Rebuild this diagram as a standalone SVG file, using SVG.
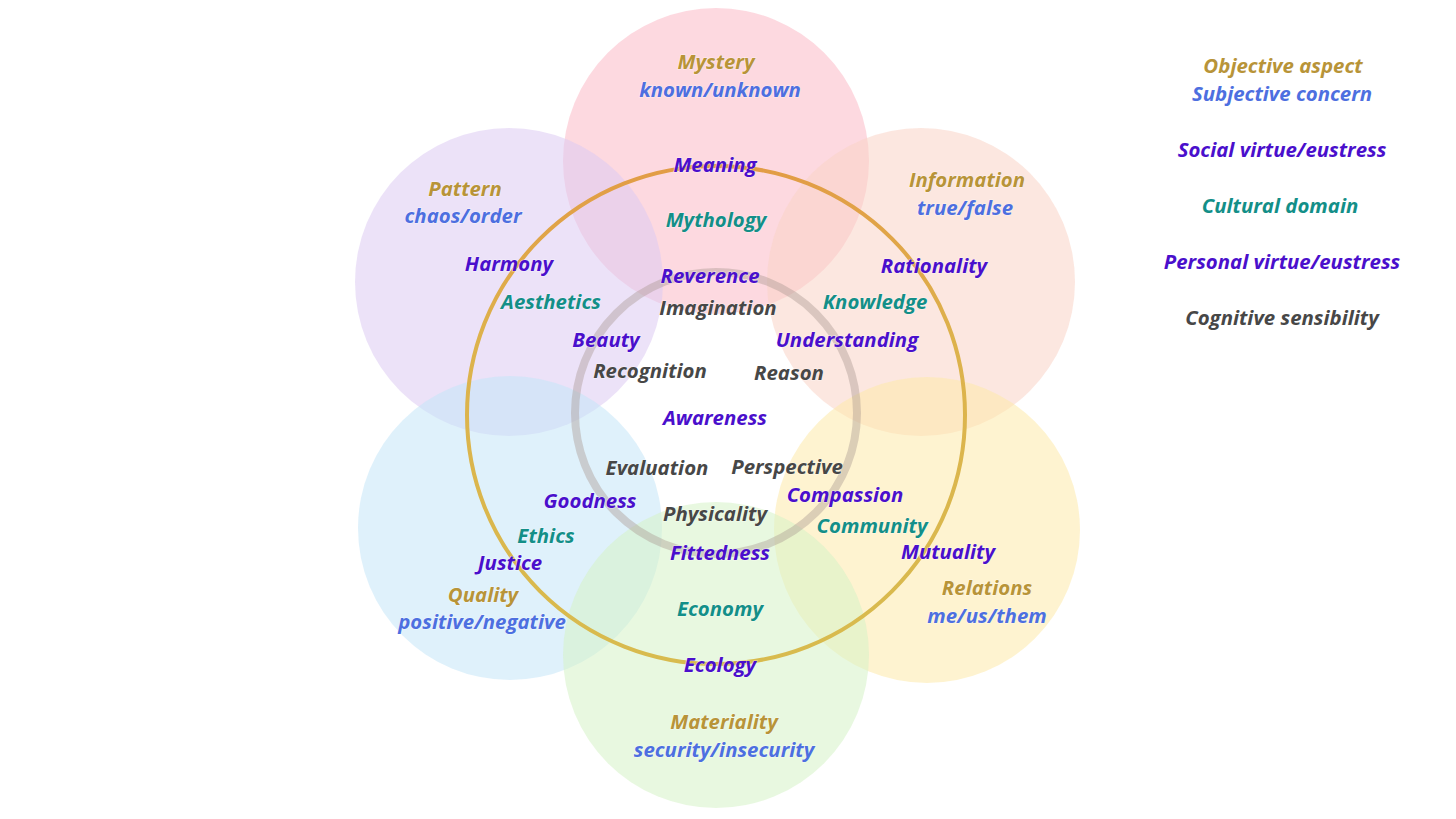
<svg xmlns="http://www.w3.org/2000/svg" width="1456" height="819" viewBox="0 0 1456 819">
<defs>
<linearGradient id="ringGrad" x1="0" y1="0" x2="0" y2="1">
<stop offset="0" stop-color="#e29c45"/>
<stop offset="0.35" stop-color="#ddb24c"/>
<stop offset="1" stop-color="#d8bb4e"/>
</linearGradient>
</defs>
<style>
text{font-family:"Open Sans","Noto Sans","Liberation Sans",sans-serif;font-style:italic;font-weight:700;font-size:20.4px;text-anchor:middle;stroke:#ffffff;stroke-width:1.2;stroke-opacity:0.5;paint-order:stroke}
.obj{fill:#b89438}
.subj{fill:#4d6fe0}
.soc{fill:#4a0fcc}
.cul{fill:#138f88}
.per{fill:#4a0fcc}
.cog{fill:#474747}
.petal{fill-opacity:0.55}
</style>
<rect width="1456" height="819" fill="#ffffff"/>
<g id="petals">
<g id="mystery-circle"><circle class="petal" cx="716" cy="161" r="153" fill="#fcb9c6"/></g>
<g id="pattern-circle"><circle class="petal" cx="509" cy="282" r="154" fill="#dccbf3"/></g>
<g id="information-circle"><circle class="petal" cx="921" cy="282" r="154" fill="#f9d3c6"/></g>
<g id="quality-circle"><circle class="petal" cx="510" cy="528" r="152" fill="#c4e6f8"/></g>
<g id="relations-circle"><circle class="petal" cx="927" cy="530" r="153" fill="#fdeaaa"/></g>
<g id="materiality-circle"><circle class="petal" cx="716" cy="655" r="153" fill="#d6f2c6"/></g>
</g>
<g id="rings">
<circle id="outer-ring" cx="716" cy="415" r="249" fill="none" stroke="url(#ringGrad)" stroke-width="4"/>
<circle id="inner-ring" cx="716" cy="413" r="141" fill="none" stroke="#a8968f" stroke-opacity="0.4" stroke-width="8"/>
</g>
<g id="connectors"></g>
<g id="mystery">
<text class="obj" x="716" y="69">Mystery</text>
<text class="subj" x="720" y="97">known/unknown</text>
<text class="soc" x="715" y="172">Meaning</text>
<text class="cul" x="716" y="227">Mythology</text>
<text class="per" x="710" y="283">Reverence</text>
<text class="cog" x="718" y="315">Imagination</text>
</g>
<g id="pattern">
<text class="obj" x="465" y="196">Pattern</text>
<text class="subj" x="463" y="223">chaos/order</text>
<text class="soc" x="509" y="271">Harmony</text>
<text class="cul" x="551" y="309">Aesthetics</text>
<text class="per" x="606" y="347">Beauty</text>
<text class="cog" x="650" y="378">Recognition</text>
</g>
<g id="information">
<text class="obj" x="967" y="187">Information</text>
<text class="subj" x="965" y="215">true/false</text>
<text class="soc" x="934" y="273">Rationality</text>
<text class="cul" x="875" y="309">Knowledge</text>
<text class="per" x="847" y="347">Understanding</text>
<text class="cog" x="789" y="380">Reason</text>
</g>
<g id="center">
<text class="per" x="715" y="425">Awareness</text>
</g>
<g id="quality">
<text class="cog" x="657" y="475">Evaluation</text>
<text class="per" x="590" y="508">Goodness</text>
<text class="cul" x="546" y="543">Ethics</text>
<text class="soc" x="510" y="570">Justice</text>
<text class="obj" x="483" y="602">Quality</text>
<text class="subj" x="482" y="629">positive/negative</text>
</g>
<g id="relations">
<text class="cog" x="787" y="474">Perspective</text>
<text class="per" x="845" y="502">Compassion</text>
<text class="cul" x="872" y="533">Community</text>
<text class="soc" x="948" y="559">Mutuality</text>
<text class="obj" x="987" y="595">Relations</text>
<text class="subj" x="987" y="623">me/us/them</text>
</g>
<g id="materiality">
<text class="cog" x="715" y="521">Physicality</text>
<text class="per" x="720" y="560">Fittedness</text>
<text class="cul" x="720" y="616">Economy</text>
<text class="soc" x="720" y="672">Ecology</text>
<text class="obj" x="724" y="729">Materiality</text>
<text class="subj" x="724" y="757">security/insecurity</text>
</g>
<g id="legend">
<text class="obj" x="1283" y="73">Objective aspect</text>
<text class="subj" x="1282" y="101">Subjective concern</text>
<text class="soc" x="1282" y="157">Social virtue/eustress</text>
<text class="cul" x="1280" y="213">Cultural domain</text>
<text class="per" x="1282" y="269">Personal virtue/eustress</text>
<text class="cog" x="1282" y="325">Cognitive sensibility</text>
</g>
</svg>
